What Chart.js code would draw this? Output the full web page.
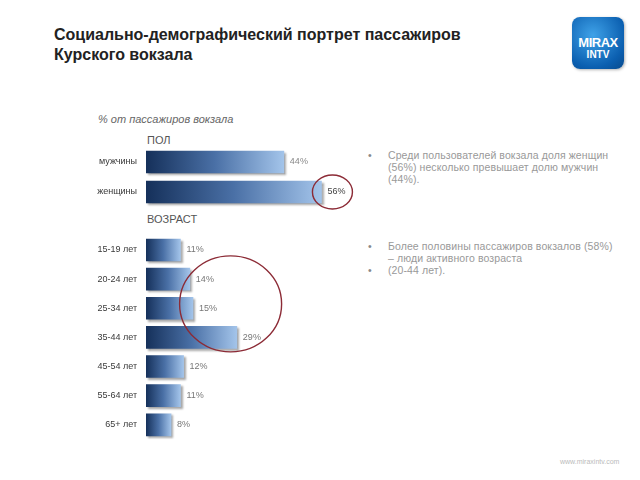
<!DOCTYPE html>
<html>
<head>
<meta charset="utf-8">
<script src="https://cdn.jsdelivr.net/npm/chart.js@4"></script>
<style>
  body { margin: 0; width: 640px; height: 480px; background: #fff; font-family: "Liberation Sans", Arial, sans-serif; position: relative; overflow: hidden; }
  .abs { position: absolute; }
  #title { left: 54px; top: 25px; font-size: 16px; font-weight: bold; color: #222; line-height: 20px; }
  #unit { left: 98px; top: 113px; font-size: 11px; font-style: italic; color: #666; }
  .sect { font-size: 11px; color: #555; }
  .note { left: 368px; width: 250px; font-size: 10.5px; color: #999; line-height: 12px; letter-spacing: 0.1px; }
  .note div { position: relative; padding-left: 20px; }
  .note div::before { content: "•"; position: absolute; left: 0; color: #888; }
  #logo { left: 572px; top: 17px; width: 52px; height: 52px; border-radius: 8px; background: radial-gradient(circle at 40% 35%, #3fa2e8, #0b5fb0 70%, #084a8c); color: #fff; font-weight: bold; text-align: center; box-shadow: 1px 1px 3px rgba(0,0,0,0.3); }
  #foot { left: 560px; top: 458px; font-size: 7px; color: #bbb; }
  canvas { position: absolute; }
</style>
</head>
<body>
<div id="title" class="abs">Социально-демографический портрет пассажиров<br>Курского вокзала</div>
<div id="logo" class="abs"><div style="font-size:13px;margin-top:18px;letter-spacing:-0.5px">MIRAX</div><div style="font-size:10px;line-height:10px">INTV</div></div>
<div id="unit" class="abs">% от пассажиров вокзала</div>
<div class="abs sect" style="left:147px;top:134px">ПОЛ</div>
<div class="abs sect" style="left:147px;top:213px">ВОЗРАСТ</div>
<div class="abs note" style="top:149px"><div>Среди пользователей вокзала доля женщин (56%) несколько превышает долю мужчин (44%).</div></div>
<div class="abs note" style="top:240px"><div>Более половины пассажиров вокзалов (58%) – люди активного возраста</div><div>(20-44 лет).</div></div>
<div id="foot" class="abs">www.miraxintv.com</div>

<canvas id="sexChart" style="left:60px;top:140px" width="300" height="75"></canvas>
<canvas id="ageChart" style="left:60px;top:228px" width="300" height="220"></canvas>

<script>
// ---- data ----
const sexLabels = ['мужчины', 'женщины'];
const sexValues = [44, 56];
const ageLabels = ['15-19 лет', '20-24 лет', '25-34 лет', '35-44 лет', '45-54 лет', '55-64 лет', '65+ лет'];
const ageValues = [11, 14, 15, 29, 12, 11, 8];

// gradient from axis start to bar end
function barGradient(ctx) {
  const chart = ctx.chart;
  const area = chart.chartArea;
  if (!area) return '#2c4f80';
  const x = chart.scales.x;
  const x0 = x.getPixelForValue(0);
  const x1 = x.getPixelForValue(ctx.raw);
  const g = chart.ctx.createLinearGradient(x0, 0, x1, 0);
  g.addColorStop(0, '#15305a');
  g.addColorStop(0.5, '#4a70a6');
  g.addColorStop(1, '#a3c4ea');
  return g;
}

const shadowPlugin = {
  id: 'shadow',
  beforeDatasetsDraw(chart) {
    const c = chart.ctx;
    c.save();
    c.shadowColor = 'rgba(0,0,0,0.35)';
    c.shadowOffsetX = 2;
    c.shadowOffsetY = 2;
    c.shadowBlur = 2;
  },
  afterDatasetsDraw(chart) {
    chart.ctx.restore();
  }
};

const valueLabels = {
  id: 'valueLabels',
  afterDatasetsDraw(chart) {
    const c = chart.ctx;
    const meta = chart.getDatasetMeta(0);
    c.save();
    c.font = '9px "Liberation Sans", Arial, sans-serif';
    c.textBaseline = 'middle';
    meta.data.forEach((bar, i) => {
      const v = chart.data.datasets[0].data[i];
      c.fillStyle = chart.options.plugins.valueLabels.colors?.[i] || '#777';
      c.fillText(v + '%', bar.x + 6, bar.y);
    });
    c.restore();
  }
};

// red ellipse around a region given in data units
const ringPlugin = {
  id: 'ring',
  afterDraw(chart) {
    const o = chart.options.plugins.ring;
    if (!o) return;
    const c = chart.ctx;
    const cx = chart.scales.x.getPixelForValue(o.x);
    const cy = chart.scales.y.getPixelForValue(o.y);
    c.save();
    c.strokeStyle = '#8c2b36';
    c.lineWidth = 1.4;
    c.beginPath();
    c.ellipse(cx, cy, o.rx, o.ry, 0, 0, Math.PI * 2);
    c.stroke();
    c.restore();
  }
};

function makeChart(id, labels, values, pad, extra) {
  return new Chart(document.getElementById(id), {
    type: 'bar',
    data: {
      labels,
      datasets: [{ data: values, backgroundColor: barGradient, barThickness: 22, borderWidth: 0 }]
    },
    options: {
      indexAxis: 'y',
      responsive: false,
      animation: false,
      layout: { padding: { top: pad.top, bottom: pad.bottom, right: 26, left: 0 } },
      scales: {
        x: { display: false, min: 0, max: 60 },
        y: {
          grid: { display: false, drawTicks: false },
          border: { display: false },
          ticks: { color: '#3a3a3a', font: { size: 9, family: '"Liberation Sans", Arial, sans-serif' }, padding: 9 },
          afterFit: s => { s.width = 86; s.paddingTop = 0; s.paddingBottom = 0; }
        }
      },
      plugins: Object.assign({ legend: { display: false }, tooltip: { enabled: false }, valueLabels: {} }, extra)
    },
    plugins: [shadowPlugin, valueLabels, ringPlugin]
  });
}

makeChart('sexChart', sexLabels, sexValues, { top: 7, bottom: 8 },
  { ring: { x: 59.5, y: 1, rx: 20, ry: 17 }, valueLabels: { colors: ['#888', '#444'] } });
makeChart('ageChart', ageLabels, ageValues, { top: 7.4, bottom: 8.6 },
  { ring: { x: 27, y: 1.85, rx: 51, ry: 48 } });
</script>
</body>
</html>
